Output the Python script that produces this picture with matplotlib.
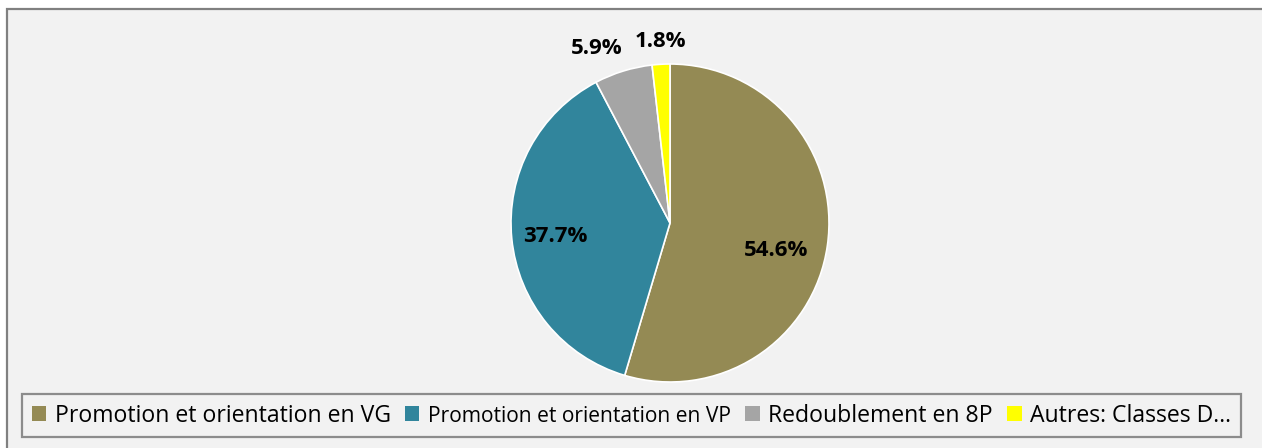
import matplotlib
matplotlib.use("Agg")
import matplotlib.pyplot as plt
from matplotlib.patches import Rectangle, Patch

plt.rcParams['font.family'] = ['Open Sans', 'DejaVu Sans']

categories = ["Promotion et orientation en VG", "Promotion et orientation en VP",
              "Redoublement en 8P", "Autres: Classes D\u2026"]
values = [54.6, 37.7, 5.9, 1.8]
colors = ["#948A54", "#31859C", "#A5A5A5", "#FFFF00"]

W, H = 1262, 448
fig = plt.figure(figsize=(W / 100, H / 100), dpi=100)
fig.patch.set_facecolor("white")

# outer chart frame
fig.patches.append(Rectangle((6.5 / W, -0.05), 1.1, (H - 9.5) / H + 0.05, transform=fig.transFigure,
                             facecolor="#F2F2F2", edgecolor="#808080", linewidth=1.6, zorder=-10))

# pie axes (center 670,223 px, radius 159 px)
cx, cy, r = 670, 223, 159
ax = fig.add_axes([(cx - r) / W, (H - cy - r) / H, 2 * r / W, 2 * r / H])
ax.set_zorder(1)

wedges, texts, autotexts = ax.pie(values, colors=colors, startangle=90, counterclock=False,
                                  radius=1, autopct="%1.1f%%", pctdistance=0.7,
                                  wedgeprops=dict(edgecolor="white", linewidth=1.2),
                                  textprops=dict(fontsize=16, fontweight="bold", color="black"))
ax.set_xlim(-1, 1)
ax.set_ylim(-1, 1)
ax.set_aspect("equal")
ax.axis("off")
label_pos = [(0.667, -0.17), (-0.723, -0.082), (-0.46, 1.10), (-0.06, 1.14)]
for t, p in zip(autotexts, label_pos):
    t.set_position(p)
    t.set_clip_on(False)
for w in wedges:
    w.set_clip_on(False)

handles = [Patch(facecolor=c, edgecolor="none") for c in colors]
leg = fig.legend(handles, categories, ncol=4, loc="center",
                 bbox_to_anchor=(631.5 / W, 1 - 415.5 / H), frameon=True,
                 fontsize=16.6, handlelength=0.62, handleheight=0.62, handletextpad=0.38,
                 columnspacing=0.62, borderpad=0.42, fancybox=False)
fr = leg.get_frame()
fr.set_edgecolor("#8C8C8C")
fr.set_facecolor("#F2F2F2")
fr.set_linewidth(1.6)
fr.set_alpha(1)
sizes = [16.6, 15.1, 16.6, 16.6]
for t, s in zip(leg.get_texts(), sizes):
    t.set_fontsize(s)

fig.savefig("out.png", dpi=100, facecolor="white")
